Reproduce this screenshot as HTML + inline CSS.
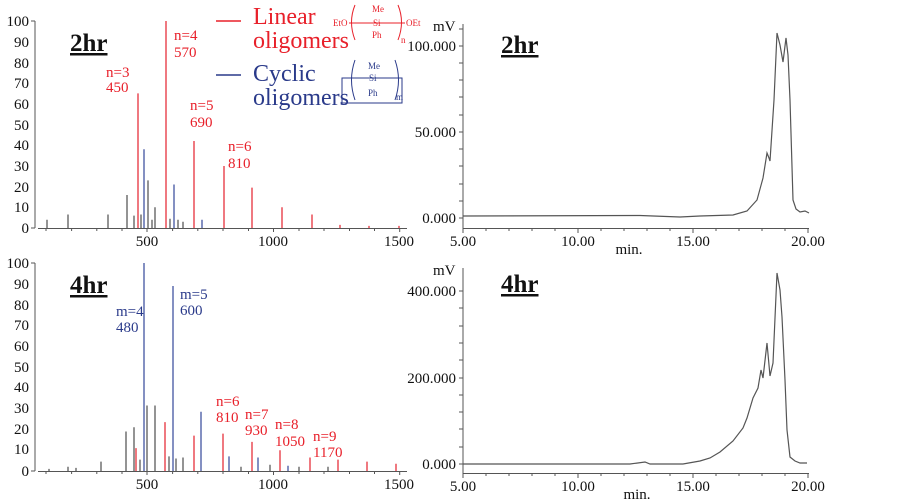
<!DOCTYPE html>
<html><head><meta charset="utf-8"><style>
body{margin:0;background:#fff;}
svg{display:block;font-family:"Liberation Serif",serif;}
</style></head><body>
<svg width="902" height="500" viewBox="0 0 902 500" xmlns="http://www.w3.org/2000/svg">
<g font-size="15" fill="#111" text-anchor="end">
<text x="29" y="26">100</text><text x="29" y="47">90</text><text x="29" y="68">80</text><text x="29" y="88">70</text><text x="29" y="109">60</text><text x="29" y="130">50</text><text x="29" y="150">40</text><text x="29" y="171">30</text><text x="29" y="192">20</text><text x="29" y="212">10</text><text x="29" y="233">0</text>
<text x="29" y="268">100</text><text x="29" y="289">90</text><text x="29" y="310">80</text><text x="29" y="330">70</text><text x="29" y="351">60</text><text x="29" y="372">50</text><text x="29" y="392">40</text><text x="29" y="413">30</text><text x="29" y="434">20</text><text x="29" y="454">10</text><text x="29" y="476">0</text>
</g>
<g stroke="#555" stroke-width="1" fill="none">
<path d="M35 21V228M31 21H35M31 228H35M38 228.5H407"/>
<path d="M35 263V471M31 263H35M31 471H35M38 471.5H407"/>
<path d="M46 228v3M71.6 228v3M96.8 228v3M122 228v3M147 228v4M172.6 228v3M197.8 228v3M223 228v3M248.5 228v3M273.5 228v4M299 228v3M324 228v3M349.5 228v3M374.5 228v3M399.7 228v4"/>
<path d="M46 471v3M71.6 471v3M96.8 471v3M122 471v3M147 471v4M172.6 471v3M197.8 471v3M223 471v3M248.5 471v3M273.5 471v4M299 471v3M324 471v3M349.5 471v3M374.5 471v3M399.7 471v4"/>
</g>
<g font-size="15" fill="#111" text-anchor="middle">
<text x="147" y="246">500</text><text x="273" y="246">1000</text><text x="399" y="246">1500</text>
<text x="147" y="489">500</text><text x="273" y="489">1000</text><text x="399" y="489">1500</text>
</g>
<!-- top bars: 0 at 228, 100 at 21 (2.07/unit) -->
<g stroke-width="1.4">
<g stroke="#666">
<path d="M47 228v-8.3M68 228v-13.5M108 228v-13.5M127 228v-33M134 228v-12.4M141 228v-13.5M148 228v-47.6M152 228v-8.3M155 228v-20.7M170 228v-9.3M178 228v-8.3M183 228v-6.2"/>
</g>
<g stroke="#e8404a">
<path d="M138 228v-134.6M166 228v-207M194 228v-87M224 228v-62M252 228v-40.4M282 228v-20.7M312 228v-13.5M340 228v-3.1M369 228v-2.1M399 228v-2.1"/>
</g>
<g stroke="#5060a8">
<path d="M144 228v-78.7M174 228v-43.5M202 228v-8.3"/>
</g>
<!-- bottom: 0 at 471, 100 at 263 (2.08) -->
<g stroke="#666">
<path d="M49 471v-2.1M68 471v-4.2M76 471v-3.1M101 471v-9.4M126 471v-39.5M134 471v-43.7M140 471v-11.4M147 471v-65.5M155 471v-65.5M169 471v-14.6M176 471v-12.5M183 471v-13.5M241 471v-4.2M270 471v-6.2M299 471v-4.2M328 471v-4.2"/>
</g>
<g stroke="#e8404a">
<path d="M136 471v-22.9M165 471v-48.9M194 471v-35.4M223 471v-37.4M252 471v-29.1M280 471v-20.8M310 471v-13.5M338 471v-11.4M367 471v-9.4M396 471v-7.3"/>
</g>
<g stroke="#5060a8">
<path d="M144 471v-208M173 471v-185M201 471v-59.3M229 471v-14.6M258 471v-13.5M288 471v-5.2"/>
</g>
</g>
<!-- labels -->
<g font-size="25" font-weight="bold" fill="#111" text-decoration="underline">
<text x="70" y="51" text-decoration="underline">2hr</text>
<text x="70" y="293">4hr</text>
<text x="501" y="53">2hr</text>
<text x="501" y="292">4hr</text>
</g>
<path d="M70 54H103M70 296H103M501 56H534M501 295H534" stroke="#111" stroke-width="1.5"/>
<g font-size="15" fill="#e8202a">
<text x="106" y="77">n=3</text><text x="106" y="92">450</text>
<text x="174" y="40">n=4</text><text x="174" y="57">570</text>
<text x="190" y="110">n=5</text><text x="190" y="127">690</text>
<text x="228" y="151">n=6</text><text x="228" y="168">810</text>
<text x="216" y="406">n=6</text><text x="216" y="422">810</text>
<text x="245" y="419">n=7</text><text x="245" y="435">930</text>
<text x="275" y="429">n=8</text><text x="275" y="446">1050</text>
<text x="313" y="441">n=9</text><text x="313" y="457">1170</text>
</g>
<g font-size="15" fill="#2a3a8a">
<text x="116" y="316">m=4</text><text x="116" y="332">480</text>
<text x="180" y="299">m=5</text><text x="180" y="315">600</text>
</g>
<!-- legend -->
<path d="M216 21H241" stroke="#e8202a" stroke-width="1.5"/>
<path d="M216 75H241" stroke="#2a3a8a" stroke-width="1.5"/>
<g font-size="24">
<text x="253" y="24" fill="#e8202a">Linear</text>
<text x="253" y="48" fill="#e8202a">oligomers</text>
<text x="253" y="81" fill="#2a3a8a">Cyclic</text>
<text x="253" y="105" fill="#2a3a8a">oligomers</text>
</g>
<g fill="#e8202a" font-size="9" stroke="#e8202a" stroke-width="1">
<text x="333" y="26" stroke="none">EtO</text>
<path d="M349 23H405" />
<path d="M355 5Q348 22 355 40M398 5Q405 22 398 40" fill="none"/>
<text x="372" y="12" stroke="none">Me</text>
<text x="373" y="26" stroke="none">Si</text>
<text x="372" y="38" stroke="none">Ph</text>
<text x="401" y="43" stroke="none">n</text>
<text x="406" y="26" stroke="none">OEt</text>
</g>
<g fill="#2a3a8a" font-size="9" stroke="#2a3a8a" stroke-width="1">
<rect x="342" y="78" width="60" height="25" fill="none"/>
<path d="M342 78H400"/>
<path d="M355 60Q348 80 355 100M395 60Q402 80 395 100" fill="none"/>
<text x="368" y="69" stroke="none">Me</text>
<text x="369" y="81" stroke="none">Si</text>
<text x="368" y="96" stroke="none">Ph</text>
<text x="396" y="100" stroke="none">m</text>
</g>
<!-- right top -->
<g stroke="#555" fill="none">
<path d="M463 24V228M463 228.5H809"/>
<path d="M463 29h-4M463 46h-4M463 63h-4M463 80h-4M463 97h-4M463 115h-4M463 132h-4M463 149h-4M463 166h-4M463 184h-4M463 201h-4M463 218h-4"/>
<path d="M463 228v5M486 228v3M509 228v3M532 228v3M555 228v3M578 228v5M601 228v3M624 228v3M647 228v3M670 228v3M693 228v5M716 228v3M739 228v3M762 228v3M785 228v3M808 228v5"/>
</g>
<g font-size="15" fill="#111">
<text x="456" y="51" text-anchor="end">100.000</text>
<text x="456" y="137" text-anchor="end">50.000</text>
<text x="456" y="223" text-anchor="end">0.000</text>
<text x="433" y="31">mV</text>
<text x="463" y="246" text-anchor="middle">5.00</text>
<text x="578" y="246" text-anchor="middle">10.00</text>
<text x="693" y="246" text-anchor="middle">15.00</text>
<text x="808" y="246" text-anchor="middle">20.00</text>
<text x="629" y="254" text-anchor="middle">min.</text>
</g>
<path d="M463 216L640 215.5L680 217L700 216L733 215L747 211L757 200L763 178L767 153L769 158L770 161L774 100L777 33L780 45L783 62L786 38L788 55L790 100L793 200L796 209L800 212L805 211L809 213" stroke="#555" stroke-width="1.2" fill="none"/>
<!-- right bottom -->
<g stroke="#555" fill="none">
<path d="M463 268V473M463 473.5H809"/>
<path d="M463 291h-4M463 308h-4M463 326h-4M463 343h-4M463 360h-4M463 378h-4M463 395h-4M463 412h-4M463 429h-4M463 447h-4M463 464h-4"/>
<path d="M463 473v5M486 473v3M509 473v3M532 473v3M555 473v3M578 473v5M601 473v3M624 473v3M647 473v3M670 473v3M693 473v5M716 473v3M739 473v3M762 473v3M785 473v3M808 473v5"/>
</g>
<g font-size="15" fill="#111">
<text x="456" y="296" text-anchor="end">400.000</text>
<text x="456" y="383" text-anchor="end">200.000</text>
<text x="456" y="469" text-anchor="end">0.000</text>
<text x="433" y="275">mV</text>
<text x="463" y="491" text-anchor="middle">5.00</text>
<text x="578" y="491" text-anchor="middle">10.00</text>
<text x="693" y="491" text-anchor="middle">15.00</text>
<text x="808" y="491" text-anchor="middle">20.00</text>
<text x="637" y="499" text-anchor="middle">min.</text>
</g>
<path d="M463 464L630 464L645 462L650 464L683 464L700 461L710 458L720 452L733 441L743 428L747 418L753 398L758 388L761 370L763 378L767 343L770 376L773 363L777 273L780 290L782 317L785 380L787 430L790 457L795 461L800 463L807 463" stroke="#555" stroke-width="1.2" fill="none"/>
</svg>
</body></html>
